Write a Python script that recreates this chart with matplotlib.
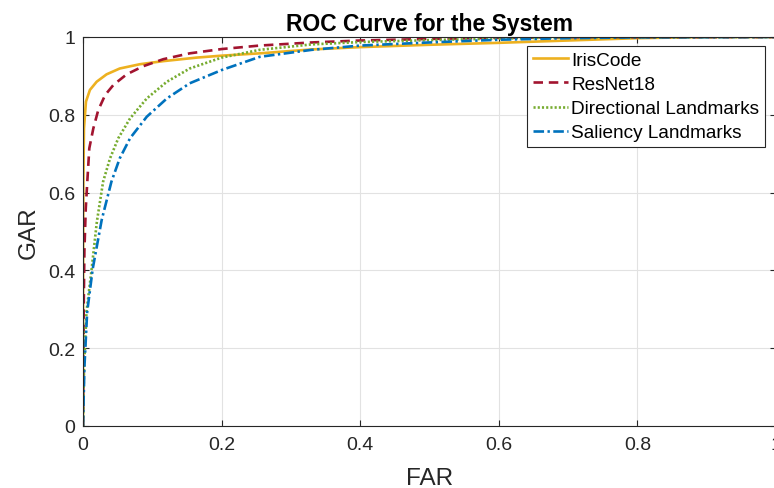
import matplotlib
matplotlib.use("Agg")
import matplotlib.pyplot as plt

plt.rcParams["font.family"] = ["Liberation Sans", "DejaVu Sans"]

# ROC points (FAR, GAR)
iris_far = [0, 0.0002, 0.0005, 0.0014, 0.0043, 0.010, 0.0197, 0.034, 0.053, 0.082,
            0.116, 0.164, 0.2, 0.255, 0.33, 0.4, 0.5, 0.6, 0.7, 0.8, 0.9, 1.0]
iris_gar = [0, 0.45, 0.628, 0.765, 0.834, 0.864, 0.885, 0.904, 0.919, 0.930,
            0.938, 0.947, 0.952, 0.958, 0.968, 0.974, 0.980, 0.985, 0.991, 0.997, 1.0, 1.0]

resnet_far = [0, 0.0005, 0.001, 0.002, 0.004, 0.0062, 0.0091, 0.0149, 0.022, 0.032, 0.044,
              0.063, 0.087, 0.116, 0.154, 0.2, 0.255, 0.33, 0.4, 0.5, 0.6, 0.7, 1.0]
resnet_gar = [0, 0.15, 0.30, 0.45, 0.56, 0.628, 0.714, 0.765, 0.812, 0.851, 0.877,
              0.904, 0.925, 0.943, 0.958, 0.969, 0.978, 0.986, 0.991, 0.995, 0.998, 0.999, 1.0]

dir_far = [0, 0.0015, 0.005, 0.0125, 0.02, 0.029, 0.039, 0.051, 0.068, 0.092, 0.121,
           0.154, 0.2, 0.255, 0.33, 0.4, 0.5, 0.6, 0.7, 1.0]
dir_gar = [0, 0.15, 0.293, 0.404, 0.525, 0.628, 0.688, 0.740, 0.791, 0.842, 0.885,
           0.919, 0.947, 0.967, 0.981, 0.987, 0.992, 0.996, 0.999, 1.0]

sal_far = [0, 0.002, 0.006, 0.014, 0.027, 0.041, 0.053, 0.068, 0.092, 0.121, 0.154,
           0.2, 0.255, 0.33, 0.4, 0.5, 0.6, 0.7, 0.8, 1.0]
sal_gar = [0, 0.15, 0.293, 0.404, 0.53, 0.628, 0.688, 0.740, 0.795, 0.842, 0.881,
           0.915, 0.949, 0.967, 0.978, 0.986, 0.993, 0.997, 0.999, 1.0]

ticks = [0, 0.2, 0.4, 0.6, 0.8, 1]
tick_labels = ["0", "0.2", "0.4", "0.6", "0.8", "1"]

fig = plt.figure(figsize=(7.74, 4.89), dpi=100)
ax = fig.add_axes([83 / 774, 1 - 427 / 489, 693 / 774, 389 / 489])

lw = 1.9
ax.plot(iris_far, iris_gar, color="#EDB120", lw=lw, ls="-", label="IrisCode")
ax.plot(resnet_far, resnet_gar, color="#A2142F", lw=lw, ls=(0, (3.6, 2.2)), label="ResNet18")
ax.plot(dir_far, dir_gar, color="#77AC30", lw=lw, ls=(0, (0.8, 0.8)), label="Directional Landmarks")
ax.plot(sal_far, sal_gar, color="#0072BD", lw=lw, ls=(0, (4, 1.3, 0.9, 1.3)), label="Saliency Landmarks")

ax.set_xlim(0, 1)
ax.set_ylim(0, 1)
ax.set_xticks(ticks)
ax.set_xticklabels(tick_labels)
ax.set_yticks(ticks)
ax.set_yticklabels(tick_labels)
ax.grid(True, color="#e2e2e2", lw=0.8)
ax.set_axisbelow(True)
for s in ax.spines.values():
    s.set_color("#262626")
    s.set_linewidth(0.8)
ax.tick_params(direction="in", length=4.5, width=0.8, colors="#262626",
               labelsize=14, top=True, right=True)
ax.tick_params(axis="x", pad=7)
ax.tick_params(axis="y", pad=5.5)

ax.set_xlabel("FAR", fontsize=17.5, color="#262626", labelpad=10)
ax.set_ylabel("GAR", fontsize=17.5, color="#262626", labelpad=6)
ax.set_title("ROC Curve for the System", fontsize=16.5, fontweight="bold", pad=5)

leg = ax.legend(loc="upper right", bbox_to_anchor=(0.984, 0.977), fontsize=13.7,
                frameon=True, fancybox=False, framealpha=1, edgecolor="#262626",
                handlelength=1.85, handletextpad=0.15, labelspacing=0.36,
                borderpad=0.3, borderaxespad=0)
leg.get_frame().set_linewidth(0.8)

fig.savefig("out.png", dpi=100)
